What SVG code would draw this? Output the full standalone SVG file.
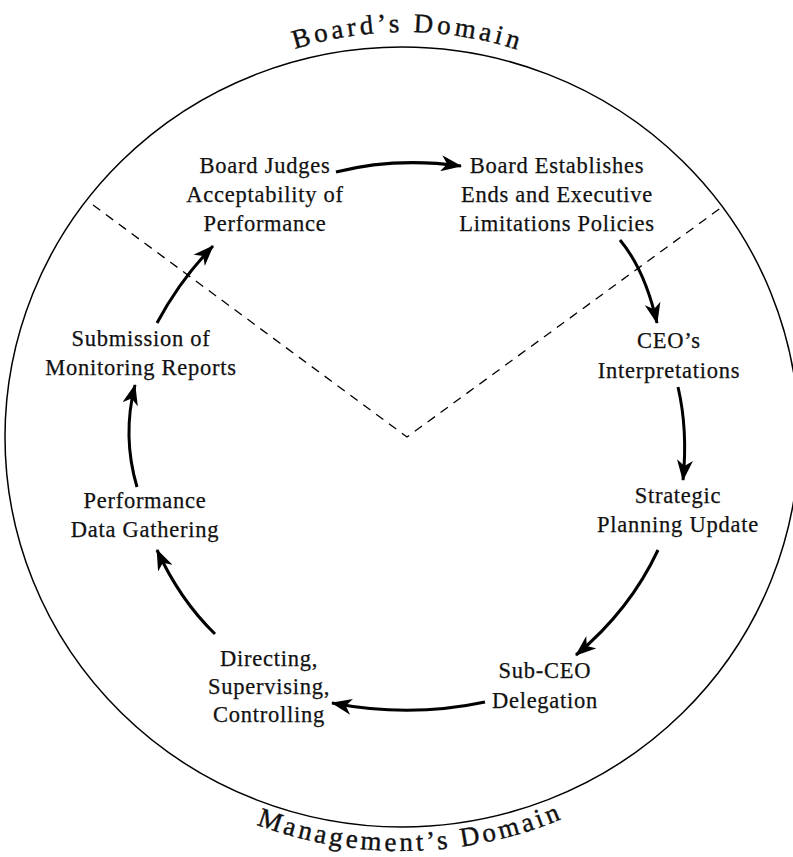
<svg xmlns="http://www.w3.org/2000/svg" width="793" height="857" viewBox="0 0 793 857">
<style>
.lbl{font-family:"Liberation Serif","Times New Roman",serif;font-size:22.5px;letter-spacing:0.75px;fill:#111;stroke:#111;stroke-width:0.25px;text-anchor:middle}
.title{font-family:"Liberation Serif","Times New Roman",serif;font-size:27px;fill:#111;stroke:#111;stroke-width:0.4px}
.arr{fill:none;stroke:#000;stroke-width:3;marker-end:url(#ah)}
</style>
<defs>
<marker id="ah" markerUnits="userSpaceOnUse" markerWidth="22" markerHeight="16" viewBox="0 0 22 16" refX="20" refY="8" orient="auto">
<path d="M0,0 L21,8 L0,16 L6,8 Z" fill="#000"/>
</marker>
<path id="topText" d="M 38 399 A 367 367 0 0 1 772 399"/>
<path id="botText" d="M -12 437 A 414 414 0 0 0 816 437"/>
</defs>
<g id="frame">
<ellipse cx="402" cy="437" rx="397" ry="390" fill="none" stroke="#000" stroke-width="1.5"/>
<polyline points="93,205 407,437 722,207" fill="none" stroke="#000" stroke-width="1.3" stroke-dasharray="9,7"/>
</g>
<g id="titles">
<text class="title" letter-spacing="3.7"><textPath href="#topText" startOffset="579" text-anchor="middle">Board’s Domain</textPath></text>
<text class="title" letter-spacing="3.3" font-size="28"><textPath href="#botText" startOffset="659" text-anchor="middle">Management’s Domain</textPath></text>
</g>
<g id="n1"><text class="lbl" x="265" y="173">Board Judges<tspan x="265" dy="29">Acceptability of</tspan><tspan x="265" dy="29">Performance</tspan></text></g>
<g id="n2"><text class="lbl" x="557" y="173">Board Establishes<tspan x="557" dy="29">Ends and Executive</tspan><tspan x="557" dy="29">Limitations Policies</tspan></text></g>
<g id="n3"><text class="lbl" x="669" y="348">CEO’s<tspan x="669" dy="30">Interpretations</tspan></text></g>
<g id="n4"><text class="lbl" x="678" y="503">Strategic<tspan x="678" dy="29">Planning Update</tspan></text></g>
<g id="n5"><text class="lbl" x="545" y="678">Sub-CEO<tspan x="545" dy="30">Delegation</tspan></text></g>
<g id="n6"><text class="lbl" x="269" y="666">Directing,<tspan x="269" dy="28">Supervising,</tspan><tspan x="269" dy="28">Controlling</tspan></text></g>
<g id="n7"><text class="lbl" x="145" y="508">Performance<tspan x="145" dy="29">Data Gathering</tspan></text></g>
<g id="n8"><text class="lbl" x="141" y="346">Submission of<tspan x="141" dy="29">Monitoring Reports</tspan></text></g>
<g id="connectors">
<path class="arr" d="M 336 172 Q 395 157 461 166"/>
<path class="arr" d="M 620 240 Q 645 270 657 323"/>
<path class="arr" d="M 678 387 Q 688 430 683 480"/>
<path class="arr" d="M 658 550 Q 630 610 576 655"/>
<path class="arr" d="M 485 702 Q 410 718 332 703"/>
<path class="arr" d="M 215 634 Q 180 600 157 550"/>
<path class="arr" d="M 137 487 Q 122 436 135 385"/>
<path class="arr" d="M 157 323 Q 180 280 213 246"/>
</g>
</svg>
